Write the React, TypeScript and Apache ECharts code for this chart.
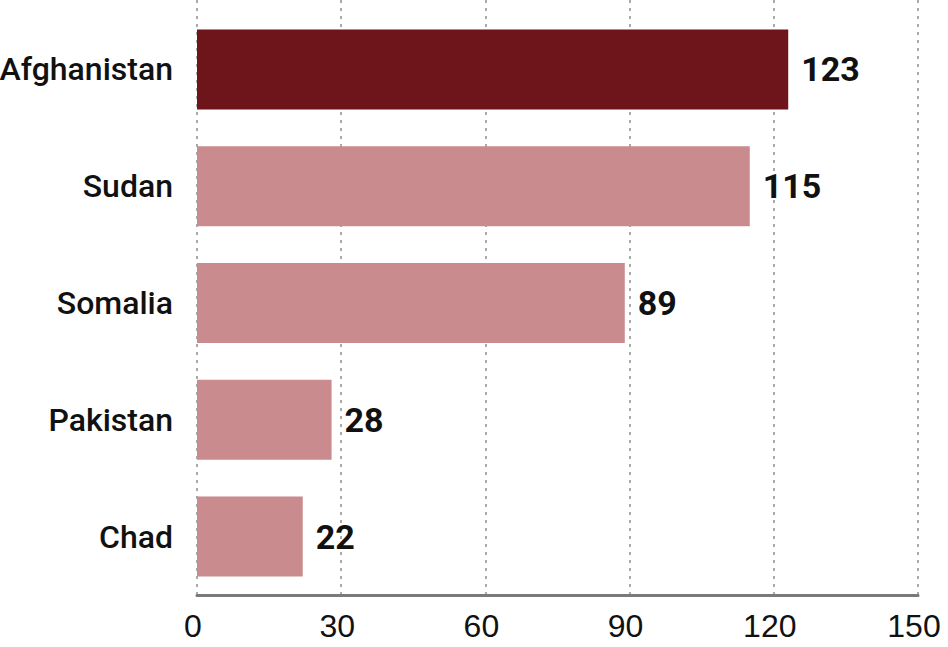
import React, { useEffect, useRef } from "react";
import * as echarts from "echarts";

const categories = ["Afghanistan", "Sudan", "Somalia", "Pakistan", "Chad"];
const values = [123, 115, 89, 28, 22];
const highlightIndex = 0;
const xTicks = { min: 0, max: 150, interval: 30 };

const DARK = "#6d151a";
const LIGHT = "#c98b8e";
const FONT = "'Liberation Sans', Arial, sans-serif";
const LABEL_FONT = "Roboto, 'Liberation Sans', sans-serif";

export default function App() {
  const ref = useRef<HTMLDivElement>(null);
  useEffect(() => {
    if (!ref.current) return;
    const chart = echarts.init(ref.current, undefined, { renderer: "svg" });
    chart.setOption({
      animation: false,
      backgroundColor: "#ffffff",
      grid: [
        { left: 197, right: 30, top: 11, bottom: 52, containLabel: false, outerBoundsMode: "none" },
        { left: 197, right: 30, top: 0, bottom: 52, containLabel: false, outerBoundsMode: "none" },
      ],
      xAxis: [
        {
          type: "value",
          gridIndex: 0,
          min: xTicks.min,
          max: xTicks.max,
          interval: xTicks.interval,
          axisLine: { show: true, lineStyle: { color: "#7a7a7a", width: 3 } },
          axisTick: { show: false },
          splitLine: { show: false },
          axisLabel: {
            color: "#111",
            fontSize: 32,
            fontFamily: FONT,
            margin: 15,
            padding: [0, 8, 0, 0],
          },
          z: 5,
        },
        {
          type: "value",
          gridIndex: 1,
          min: xTicks.min,
          max: xTicks.max,
          interval: xTicks.interval,
          axisLine: { show: false },
          axisTick: { show: false },
          axisLabel: { show: false },
          splitLine: {
            show: true,
            lineStyle: { color: "#aaaaaa", width: 2, type: [3, 5] },
          },
        },
      ],
      yAxis: [
        {
          type: "category",
          gridIndex: 0,
          data: categories,
          inverse: true,
          axisLine: { show: false },
          axisTick: { show: false },
          axisLabel: {
            color: "#111",
            fontSize: 32,
            fontWeight: 500,
            fontFamily: LABEL_FONT,
            margin: 24,
            padding: [0, 0, 6, 0],
          },
        },
        {
          type: "value",
          gridIndex: 1,
          show: false,
          splitLine: { show: false },
        },
      ],
      series: [
        {
          type: "bar",
          xAxisIndex: 0,
          yAxisIndex: 0,
          barWidth: 80,
          z: 3,
          data: values.map((v, i) => ({
            value: v,
            itemStyle: { color: i === highlightIndex ? DARK : LIGHT },
          })),
          label: {
            show: true,
            position: "right",
            distance: 13,
            color: "#111",
            fontSize: 34,
            fontWeight: "bold",
            fontFamily: LABEL_FONT,
            padding: [0, 0, 4, 0],
          },
        },
      ],
    });
    return () => chart.dispose();
  }, []);
  return (
    <div
      ref={ref}
      style={{ position: "absolute", left: 0, top: 0, width: 948, height: 647 }}
    />
  );
}
